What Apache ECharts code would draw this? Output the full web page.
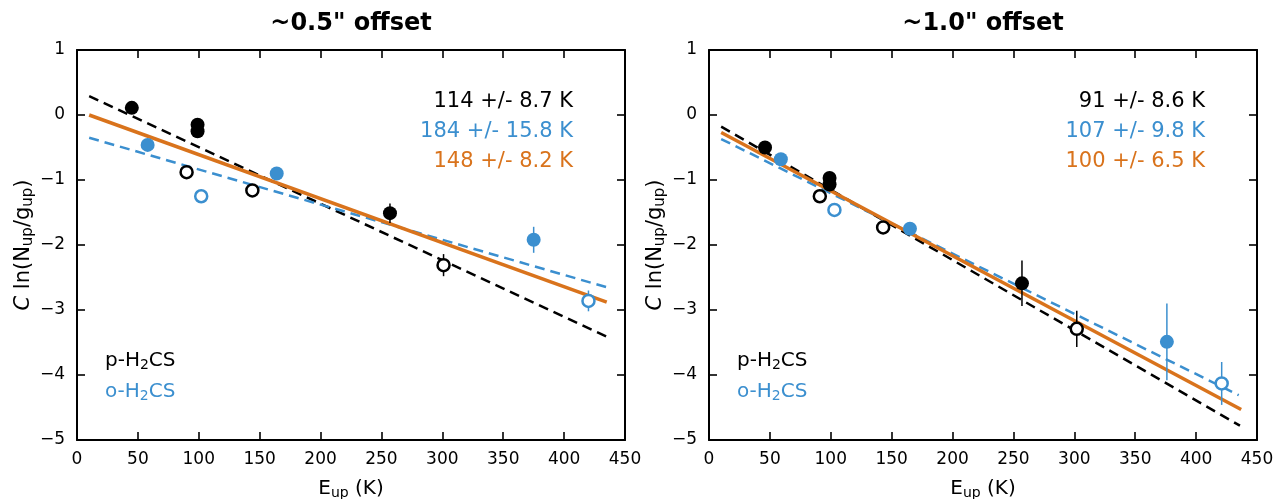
<!DOCTYPE html>
<html>
<head>
<meta charset="utf-8">
<script src="https://cdn.jsdelivr.net/npm/echarts@6/dist/echarts.min.js"></script>
<style>
html,body{margin:0;padding:0;background:#fff;}
#chart{width:1279px;height:499px;}
</style>
</head>
<body>
<div id="chart"></div>
<script>
// ---------- data ----------
const panelTitles = ['~0.5" offset', '~1.0" offset'];
const xTicks = [0, 50, 100, 150, 200, 250, 300, 350, 400, 450];
const yTicks = [-5, -4, -3, -2, -1, 0, 1];

// left panel (~0.5")
const L_pFilledX = [45, 99, 99, 257];
const L_pFilledY = [0.11, -0.15, -0.25, -1.51];
const L_pFilledE = [0.05, 0.05, 0.05, 0.15];
const L_pOpenX = [90, 144, 301];
const L_pOpenY = [-0.88, -1.16, -2.31];
const L_pOpenE = [0.05, 0.06, 0.17];
const L_oFilledX = [58, 164, 375];
const L_oFilledY = [-0.46, -0.90, -1.92];
const L_oFilledE = [0.05, 0.05, 0.20];
const L_oOpenX = [102, 420];
const L_oOpenY = [-1.25, -2.86];
const L_oOpenE = [0.05, 0.16];
const L_fitPX = [10, 435], L_fitPY = [0.29, -3.41];
const L_fitOX = [10, 435], L_fitOY = [-0.35, -2.65];
const L_fitAX = [10, 435], L_fitAY = [0.00, -2.88];
const L_fitText = ['114 +/- 8.7 K', '184 +/- 15.8 K', '148 +/- 8.2 K'];

// right panel (~1.0")
const R_pFilledX = [46, 99, 99, 257];
const R_pFilledY = [-0.50, -0.97, -1.07, -2.59];
const R_pFilledE = [0.06, 0.10, 0.10, 0.35];
const R_pOpenX = [91, 143, 302];
const R_pOpenY = [-1.25, -1.73, -3.29];
const R_pOpenE = [0.05, 0.08, 0.28];
const R_oFilledX = [59, 165, 376];
const R_oFilledY = [-0.68, -1.75, -3.49];
const R_oFilledE = [0.05, 0.08, 0.59];
const R_oOpenX = [103, 421];
const R_oOpenY = [-1.46, -4.13];
const R_oOpenE = [0.05, 0.33];
const R_fitPX = [10, 436], R_fitPY = [-0.18, -4.78];
const R_fitOX = [10, 435], R_fitOY = [-0.37, -4.31];
const R_fitAX = [10, 437], R_fitAY = [-0.27, -4.53];
const R_fitText = ['91 +/- 8.6 K', '107 +/- 9.8 K', '100 +/- 6.5 K'];

// ---------- styling ----------
const BLACK = '#000000', BLUE = '#3b8fcf', ORANGE = '#d9731c';
const FONT = 'DejaVu Sans';
const zip = (xs, ys) => xs.map((x, i) => [x, ys[i]]);
const zipE = (xs, ys, es) => xs.map((x, i) => [x, ys[i] - es[i], ys[i] + es[i]]);

const grids = [
  {left: 77, top: 50, width: 548, height: 390, outerBoundsMode: 'none', containLabel: false},
  {left: 709, top: 50, width: 548, height: 390, outerBoundsMode: 'none', containLabel: false}
];

const xAxis = [], yAxis = [], series = [], graphic = [], title = [];
const minus = v => String(v).replace('-', '\u2212');

const panels = [
  {pF:[L_pFilledX,L_pFilledY,L_pFilledE], pO:[L_pOpenX,L_pOpenY,L_pOpenE],
   oF:[L_oFilledX,L_oFilledY,L_oFilledE], oO:[L_oOpenX,L_oOpenY,L_oOpenE],
   fP:[L_fitPX,L_fitPY], fO:[L_fitOX,L_fitOY], fA:[L_fitAX,L_fitAY], txt:L_fitText},
  {pF:[R_pFilledX,R_pFilledY,R_pFilledE], pO:[R_pOpenX,R_pOpenY,R_pOpenE],
   oF:[R_oFilledX,R_oFilledY,R_oFilledE], oO:[R_oOpenX,R_oOpenY,R_oOpenE],
   fP:[R_fitPX,R_fitPY], fO:[R_fitOX,R_fitOY], fA:[R_fitAX,R_fitAY], txt:R_fitText}
];

const subRich = {
  s: {fontSize: 14, fontFamily: FONT, color: '#000', fontWeight: 'normal', padding: [9, 0, 0, 0]},
  i: {fontSize: 20, fontFamily: FONT, fontStyle: 'italic', fontWeight: 'normal', color: '#000'},
  n: {fontSize: 20, fontFamily: FONT, fontWeight: 'normal', color: '#000'}
};
const subRichY = {
  s: {fontSize: 15, fontFamily: FONT, color: '#000', fontWeight: 'normal', padding: [9, 0, 0, 0]},
  i: {fontSize: 21, fontFamily: FONT, fontStyle: 'italic', fontWeight: 'normal', color: '#000'},
  n: {fontSize: 21, fontFamily: FONT, fontWeight: 'normal', color: '#000'}
};

panels.forEach((p, gi) => {
  const axLine = {show: true, onZero: false, lineStyle: {color: '#000', width: 2}};
  const tick = {show: true, inside: true, length: 8, lineStyle: {color: '#000', width: 1.6}};
  // primary x
  xAxis.push({
    type: 'value', gridIndex: gi, min: 0, max: 450, interval: 50, position: 'bottom',
    axisLine: axLine, axisTick: tick, splitLine: {show: false},
    axisLabel: {color: '#000', fontSize: 17, fontFamily: FONT, margin: 11},
    name: '{n|E}{s|up}{n| (K)}', nameLocation: 'middle', nameGap: 37,
    nameTextStyle: {fontSize: 20, fontFamily: FONT, color: '#000', rich: subRich}
  });
  // top x
  xAxis.push({
    type: 'value', gridIndex: gi, min: 0, max: 450, interval: 50, position: 'top',
    axisLine: axLine, axisTick: tick, splitLine: {show: false}, axisLabel: {show: false}
  });
  yAxis.push({
    type: 'value', gridIndex: gi, min: -5, max: 1, interval: 1, position: 'left',
    axisLine: axLine, axisTick: tick, splitLine: {show: false},
    axisLabel: {color: '#000', fontSize: 17, fontFamily: FONT, margin: 12, formatter: minus},
    name: '{i|C}{n| ln(N}{s|up}{n|/g}{s|up}{n|)}', nameLocation: 'middle', nameGap: 35, nameRotate: 90,
    nameTextStyle: {fontSize: 21, fontFamily: FONT, color: '#000', rich: subRichY}
  });
  yAxis.push({
    type: 'value', gridIndex: gi, min: -5, max: 1, interval: 1, position: 'right',
    axisLine: axLine, axisTick: tick, splitLine: {show: false}, axisLabel: {show: false}
  });
  const xi = gi * 2, yi = gi * 2;

  const line = (d, color, w, dashed) => ({
    type: 'line', xAxisIndex: xi, yAxisIndex: yi, data: zip(d[0], d[1]), symbol: 'none',
    lineStyle: {color, width: w, type: dashed ? [10, 6] : 'solid'}, z: 3, silent: true
  });
  series.push(line(p.fP, BLACK, 2.5, true));
  series.push(line(p.fO, BLUE, 2.5, true));
  series.push(line(p.fA, ORANGE, 3.5, false));

  const err = (d, color) => ({
    type: 'custom', xAxisIndex: xi, yAxisIndex: yi, data: zipE(d[0], d[1], d[2]), z: 4, silent: true,
    renderItem: (params, api) => {
      const a = api.coord([api.value(0), api.value(1)]);
      const b = api.coord([api.value(0), api.value(2)]);
      return {type: 'line', shape: {x1: a[0], y1: a[1], x2: b[0], y2: b[1]},
              style: {stroke: color, lineWidth: 1.5}};
    }
  });
  series.push(err(p.pF, BLACK), err(p.pO, BLACK), err(p.oF, BLUE), err(p.oO, BLUE));

  const pts = (d, color, filled) => ({
    type: 'scatter', xAxisIndex: xi, yAxisIndex: yi, data: zip(d[0], d[1]),
    symbol: 'circle', symbolSize: filled ? 14 : 12, z: 5, silent: true,
    itemStyle: filled ? {color: color, opacity: 1} : {color: '#fff', borderColor: color, borderWidth: 2.5, opacity: 1}
  });
  series.push(pts(p.pF, BLACK, true), pts(p.pO, BLACK, false), pts(p.oF, BLUE, true), pts(p.oO, BLUE, false));

  const g = grids[gi];
  title.push({
    text: panelTitles[gi], left: g.left + g.width / 2, top: 12, padding: 0, textAlign: 'center',
    textStyle: {fontFamily: FONT, fontSize: 24, fontWeight: 'bold', color: '#000'}
  });
  const cols = [BLACK, BLUE, ORANGE];
  p.txt.forEach((t, k) => {
    graphic.push({
      type: 'text', x: g.left + 496, y: 102 + 30 * k, silent: true,
      style: {text: t, fill: cols[k], font: '21px "DejaVu Sans"', textAlign: 'right', textVerticalAlign: 'middle'}
    });
  });
  [['p', BLACK], ['o', BLUE]].forEach(([lab, c], k) => {
    const rich = {
      n: {fontSize: 20, fontFamily: FONT, fontWeight: 'normal', color: c},
      s: {fontSize: 14, fontFamily: FONT, fontWeight: 'normal', color: c, padding: [9, 0, 0, 0]}
    };
    title.push({
      text: '{n|' + lab + '-H}{s|2}{n|CS}', left: g.left + 28, top: 349 + 31 * k, padding: 0,
      textStyle: {rich}
    });
  });
});

const chart = echarts.init(document.getElementById('chart'), null, {renderer: 'canvas'});
chart.setOption({
  animation: false, backgroundColor: '#fff',
  title, grid: grids, xAxis, yAxis, series, graphic
});
</script>
</body>
</html>
